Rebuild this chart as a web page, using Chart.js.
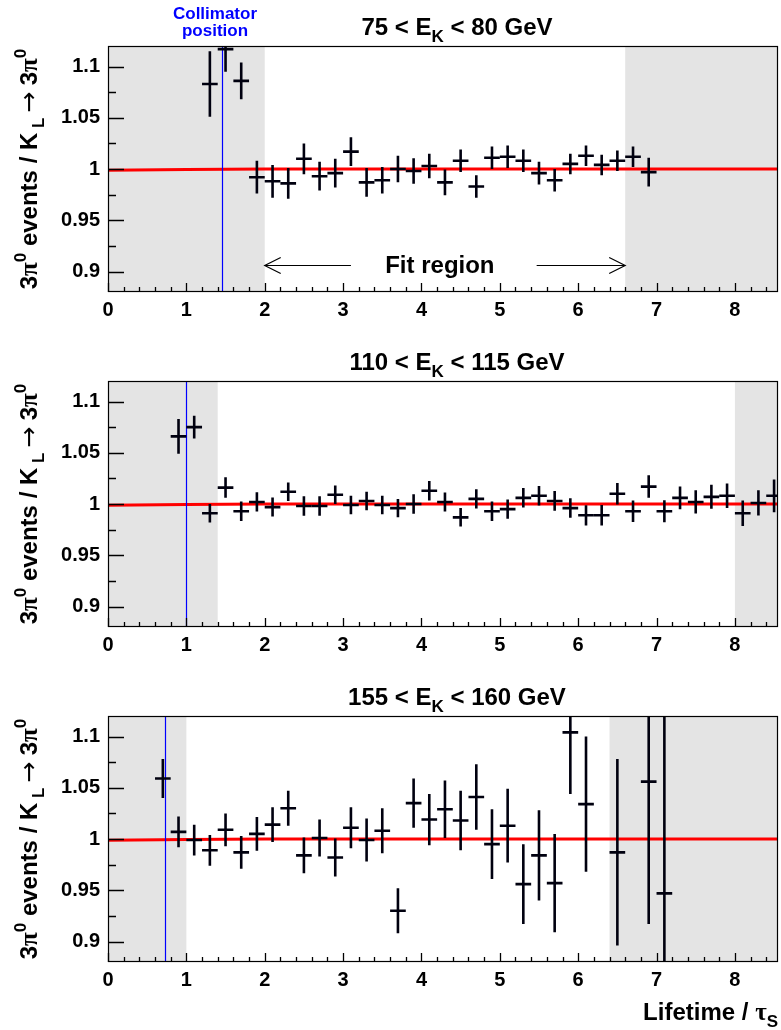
<!DOCTYPE html>
<html>
<head>
<meta charset="utf-8">
<script src="https://cdn.jsdelivr.net/npm/chart.js@4.4.1/dist/chart.umd.min.js"></script>
<style>
  html, body { margin: 0; padding: 0; background: #fff; }
  #wrap { position: relative; width: 781px; height: 1030px; }
  canvas { position: absolute; left: 0; }
</style>
</head>
<body>
<div id="wrap">
  <canvas id="panel1" width="781" height="335" style="top:0px"></canvas>
  <canvas id="panel2" width="781" height="335" style="top:335px"></canvas>
  <canvas id="panel3" width="781" height="360" style="top:670px"></canvas>
</div>
<script>
// ---- data ----
const panelTitles = [
    [["75 < E", 1, 0], ["K", 0.7, 7], [" < 80 GeV", 1, 0]],
    [["110 < E", 1, 0], ["K", 0.7, 7], [" < 115 GeV", 1, 0]],
    [["155 < E", 1, 0], ["K", 0.7, 7], [" < 160 GeV", 1, 0]]
];

const xTicks = [0, 1, 2, 3, 4, 5, 6, 7, 8];
const yTicks = [0.9, 0.95, 1, 1.05, 1.1];
const yTickLabels = ["0.9", "0.95", "1", "1.05", "1.1"];
const yMinorTicks = [0.925, 0.975, 1.025, 1.075];

const lifetime75 = [1.3, 1.5, 1.7, 1.9, 2.1, 2.3, 2.5, 2.7, 2.9, 3.1, 3.3, 3.5, 3.7, 3.9, 4.1, 4.3, 4.5, 4.7, 4.9, 5.1, 5.3, 5.5, 5.7, 5.9, 6.1, 6.3, 6.5, 6.7, 6.9];
const ratio75 = [1.083, 1.117, 1.086, 0.992, 0.988, 0.986, 1.010, 0.993, 0.996, 1.017, 0.987, 0.989, 1.000, 0.998, 1.003, 0.987, 1.008, 0.983, 1.011, 1.012, 1.008, 0.996, 0.989, 1.005, 1.013, 1.004, 1.008, 1.012, 0.997];
const error75 = [0.032, 0.022, 0.018, 0.016, 0.016, 0.015, 0.015, 0.014, 0.014, 0.014, 0.014, 0.013, 0.013, 0.0125, 0.012, 0.0125, 0.011, 0.011, 0.011, 0.011, 0.011, 0.011, 0.011, 0.010, 0.010, 0.010, 0.010, 0.010, 0.014];

const lifetime110 = [0.9, 1.1, 1.3, 1.5, 1.7, 1.9, 2.1, 2.3, 2.5, 2.7, 2.9, 3.1, 3.3, 3.5, 3.7, 3.9, 4.1, 4.3, 4.5, 4.7, 4.9, 5.1, 5.3, 5.5, 5.7, 5.9, 6.1, 6.3, 6.5, 6.7, 6.9, 7.1, 7.3, 7.5, 7.7, 7.9, 8.1, 8.3, 8.5];
const ratio110 = [1.066, 1.075, 0.991, 1.016, 0.993, 1.002, 0.997, 1.012, 0.998, 0.998, 1.009, 0.999, 1.003, 0.999, 0.996, 1.000, 1.013, 1.002, 0.987, 1.005, 0.993, 0.995, 1.006, 1.008, 1.003, 0.996, 0.989, 0.989, 1.010, 0.993, 1.017, 0.993, 1.006, 1.002, 1.007, 1.008, 0.991, 1.001, 1.008];
const error110 = [0.017, 0.011, 0.009, 0.010, 0.0095, 0.0094, 0.0093, 0.009, 0.0095, 0.0095, 0.009, 0.009, 0.009, 0.009, 0.009, 0.0095, 0.0095, 0.0093, 0.009, 0.0093, 0.0095, 0.0094, 0.0095, 0.0095, 0.0097, 0.0095, 0.0099, 0.010, 0.0104, 0.0105, 0.011, 0.0107, 0.011, 0.0113, 0.0117, 0.012, 0.0125, 0.0123, 0.016];

const lifetime155 = [0.7, 0.9, 1.1, 1.3, 1.5, 1.7, 1.9, 2.1, 2.3, 2.5, 2.7, 2.9, 3.1, 3.3, 3.5, 3.7, 3.9, 4.1, 4.3, 4.5, 4.7, 4.9, 5.1, 5.3, 5.5, 5.7, 5.9, 6.1, 6.5, 6.9, 7.1];
const ratio155 = [1.059, 1.007, 0.999, 0.989, 1.009, 0.987, 1.005, 1.014, 1.030, 0.984, 1.001, 0.982, 1.011, 0.999, 1.008, 0.930, 1.035, 1.019, 1.029, 1.018, 1.041, 0.995, 1.013, 0.956, 0.984, 0.957, 1.104, 1.034, 0.987, 1.056, 0.947];
const error155 = [0.019, 0.015, 0.015, 0.015, 0.016, 0.016, 0.0165, 0.017, 0.017, 0.0175, 0.018, 0.0185, 0.020, 0.021, 0.022, 0.022, 0.024, 0.025, 0.028, 0.029, 0.032, 0.034, 0.036, 0.039, 0.044, 0.048, 0.060, 0.066, 0.091, 0.139, 0.20];

// fitted ratio (red curve)
const fitLifetime = [0, 1.0, 2.0, 8.55];
const fitRatio = [0.9987, 0.9995, 1.0, 1.0];

// grey excluded regions and collimator line, one entry per panel
const excludedBelow = [2.0, 1.4, 1.0];
const excludedAbove = [6.6, 8.0, 6.4];
const collimatorAt = [1.45, 1.0, 0.73];

const binHalfWidth = 0.1;

// ---- look ----
const X_MIN = 0, X_MAX = 8.55, Y_MIN = 0.88, Y_MAX = 1.12;
const FONT = "'Liberation Sans', Arial, Helvetica, sans-serif";
const SYMFONT = "'Liberation Serif', 'DejaVu Serif', serif";
const ARROWFONT = "'DejaVu Sans', sans-serif";
const GREY = "#e4e4e4";
const INK = "#00000f";

function drawRich(ctx, parts, x, y, size, align, color) {
    // parts: [text, scale, dy, font?, weight?]
    let total = 0;
    const measured = parts.map(p => {
        const f = (p[4] || "bold") + " " + Math.round(size * p[1]) + "px " + (p[3] || FONT);
        ctx.font = f;
        const w = ctx.measureText(p[0]).width;
        total += w;
        return { t: p[0], f: f, w: w, dy: p[2] };
    });
    let cx = x;
    if (align === "center") cx = x - total / 2;
    if (align === "right") cx = x - total;
    ctx.fillStyle = color || "#000";
    ctx.textAlign = "left";
    ctx.textBaseline = "alphabetic";
    measured.forEach(m => {
        ctx.font = m.f;
        ctx.fillText(m.t, cx, y + m.dy);
        cx += m.w;
    });
}

const rootStyle = {
    id: "rootStyle",
    beforeDatasetsDraw(chart, args, opts) {
        const ctx = chart.ctx;
        const a = chart.chartArea;
        const xs = chart.scales.x;
        const i = opts.index;
        ctx.save();
        ctx.fillStyle = GREY;
        const xl = xs.getPixelForValue(excludedBelow[i]);
        ctx.fillRect(a.left, a.top, xl - a.left, a.bottom - a.top);
        const xr = xs.getPixelForValue(excludedAbove[i]);
        ctx.fillRect(xr, a.top, a.right - xr, a.bottom - a.top);
        ctx.restore();
    },
    afterDatasetsDraw(chart, args, opts) {
        const ctx = chart.ctx;
        const a = chart.chartArea;
        const xs = chart.scales.x;
        const ys = chart.scales.y;
        const i = opts.index;

        // collimator line
        ctx.save();
        const xc = Math.round(xs.getPixelForValue(collimatorAt[i])) + 0.5;
        ctx.strokeStyle = "#0000ff";
        ctx.lineWidth = 1.2;
        ctx.beginPath();
        ctx.moveTo(xc, a.top);
        ctx.lineTo(xc, a.bottom);
        ctx.stroke();
        ctx.restore();

        // error bars of the data points
        const ds = chart.data.datasets[1].data;
        ctx.save();
        ctx.beginPath();
        ctx.rect(a.left, a.top, a.right - a.left, a.bottom - a.top);
        ctx.clip();
        ctx.strokeStyle = INK;
        ctx.lineWidth = 2.6;
        ds.forEach(p => {
            const px = xs.getPixelForValue(p.x);
            const py = ys.getPixelForValue(p.y);
            ctx.beginPath();
            ctx.moveTo(px, ys.getPixelForValue(p.y - p.e));
            ctx.lineTo(px, ys.getPixelForValue(p.y + p.e));
            ctx.moveTo(xs.getPixelForValue(p.x - binHalfWidth), py);
            ctx.lineTo(xs.getPixelForValue(p.x + binHalfWidth), py);
            ctx.stroke();
        });
        ctx.restore();
    },
    afterDraw(chart, args, opts) {
        const ctx = chart.ctx;
        const a = chart.chartArea;
        const xs = chart.scales.x;
        const ys = chart.scales.y;
        const i = opts.index;
        ctx.save();

        // frame
        ctx.strokeStyle = "#000";
        ctx.lineWidth = 1.2;
        ctx.strokeRect(a.left + 0.5, a.top + 0.5, a.right - a.left - 1, a.bottom - a.top - 1);

        // inward ticks
        ctx.lineWidth = 1.3;
        ctx.beginPath();
        yTicks.forEach(v => {
            const y = Math.round(ys.getPixelForValue(v)) + 0.5;
            ctx.moveTo(a.left, y); ctx.lineTo(a.left + 16, y);
        });
        yMinorTicks.forEach(v => {
            const y = Math.round(ys.getPixelForValue(v)) + 0.5;
            ctx.moveTo(a.left, y); ctx.lineTo(a.left + 8, y);
        });
        for (let k = 0; k * 0.2 <= X_MAX + 1e-9; k++) {
            const x = Math.round(xs.getPixelForValue(k * 0.2)) + 0.5;
            const len = (k % 5 === 0) ? 9 : 5;
            ctx.moveTo(x, a.bottom); ctx.lineTo(x, a.bottom - len);
        }
        ctx.stroke();

        // panel title
        drawRich(ctx, panelTitles[i], 457, 35, 24, "center");

        // y axis title, rotated
        ctx.save();
        ctx.translate(37, (a.top + a.bottom) / 2);
        ctx.rotate(-Math.PI / 2);
        drawRich(ctx, [
            ["3", 1, 0], ["\u03c0", 1.05, 0, SYMFONT], ["0", 0.7, -11],
            [" events / K", 1, 0], [" L ", 0.7, 7], ["\u2192", 1.05, 0, ARROWFONT, "normal"], [" 3", 1, 0],
            ["\u03c0", 1.05, 0, SYMFONT], ["0", 0.7, -11]
        ], 0, 0, 24, "center");
        ctx.restore();

        if (i === 0) {
            // collimator label
            ctx.fillStyle = "#0000ff";
            ctx.font = "bold 17px " + FONT;
            ctx.textAlign = "center";
            ctx.textBaseline = "alphabetic";
            ctx.fillText("Collimator", 215, 19);
            ctx.fillText("position", 215, 36);

            // fit region arrows
            const yA = Math.round(ys.getPixelForValue(0.906)) + 0.5;
            const x1 = xs.getPixelForValue(excludedBelow[0]);
            const x2 = xs.getPixelForValue(3.1);
            const x3 = xs.getPixelForValue(5.47);
            const x4 = xs.getPixelForValue(excludedAbove[0]);
            ctx.strokeStyle = "#000";
            ctx.lineWidth = 1.2;
            ctx.beginPath();
            ctx.moveTo(x1, yA); ctx.lineTo(x2, yA);
            ctx.moveTo(x1 + 16, yA - 8); ctx.lineTo(x1, yA); ctx.lineTo(x1 + 16, yA + 8);
            ctx.moveTo(x3, yA); ctx.lineTo(x4, yA);
            ctx.moveTo(x4 - 16, yA - 8); ctx.lineTo(x4, yA); ctx.lineTo(x4 - 16, yA + 8);
            ctx.stroke();
            ctx.fillStyle = "#000";
            ctx.font = "bold 24px " + FONT;
            ctx.textAlign = "center";
            ctx.textBaseline = "middle";
            ctx.fillText("Fit region", xs.getPixelForValue(4.235), yA + 1);
        }

        if (opts.xTitle) {
            drawRich(ctx, [
                ["Lifetime / ", 1, 0], ["\u03c4", 1.05, 0, SYMFONT], ["S", 0.7, 7]
            ], 778, 350, 24, "right");
        }
        ctx.restore();
    }
};

function makePanel(canvasId, index, lifetime, ratio, error, xTitle) {
    const canvas = document.getElementById(canvasId);
    const points = lifetime.map((x, k) => ({ x: x, y: ratio[k], e: error[k] }));
    const fitPoints = fitLifetime.map((x, k) => ({ x: x, y: fitRatio[k] }));
    return new Chart(canvas.getContext("2d"), {
        type: "scatter",
        data: {
            datasets: [
                {
                    type: "line",
                    data: fitPoints,
                    borderColor: "#ff0000",
                    borderWidth: 3,
                    pointRadius: 0,
                    tension: 0
                },
                {
                    data: points,
                    pointRadius: 0,
                    showLine: false
                }
            ]
        },
        options: {
            responsive: false,
            animation: false,
            events: [],
            layout: { padding: { top: 46, right: 3, left: 0, bottom: 0 } },
            plugins: {
                legend: { display: false },
                tooltip: { enabled: false },
                rootStyle: { index: index, xTitle: xTitle }
            },
            scales: {
                x: {
                    type: "linear",
                    min: X_MIN,
                    max: X_MAX,
                    grid: { display: false, drawTicks: false },
                    border: { display: false },
                    afterBuildTicks: s => { s.ticks = xTicks.map(v => ({ value: v })); },
                    afterFit: s => { s.height = canvas.height - 292; },
                    ticks: {
                        autoSkip: false,
                        maxRotation: 0,
                        padding: 6,
                        color: "#000",
                        font: { family: FONT, size: 20, weight: "bold" },
                        callback: v => String(v)
                    }
                },
                y: {
                    type: "linear",
                    min: Y_MIN,
                    max: Y_MAX,
                    grid: { display: false, drawTicks: false },
                    border: { display: false },
                    afterBuildTicks: s => { s.ticks = yTicks.map(v => ({ value: v })); },
                    afterFit: s => { s.width = 108; },
                    ticks: {
                        autoSkip: false,
                        padding: 8,
                        color: "#000",
                        font: { family: FONT, size: 20, weight: "bold" },
                        callback: v => {
                            const k = yTicks.findIndex(t => Math.abs(t - v) < 1e-9);
                            return k >= 0 ? yTickLabels[k] : "";
                        }
                    }
                }
            }
        },
        plugins: [rootStyle]
    });
}

makePanel("panel1", 0, lifetime75, ratio75, error75, false);
makePanel("panel2", 1, lifetime110, ratio110, error110, false);
makePanel("panel3", 2, lifetime155, ratio155, error155, true);
</script>
</body>
</html>
